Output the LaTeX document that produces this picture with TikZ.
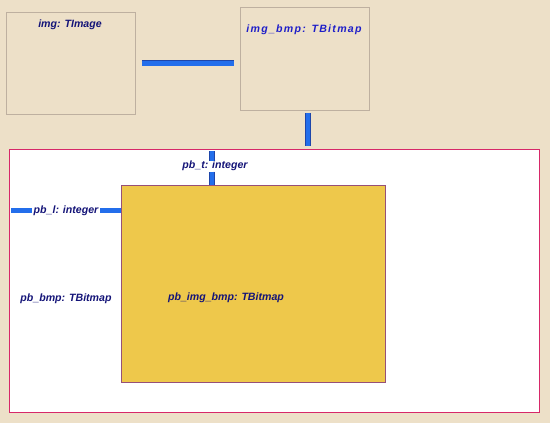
\documentclass[tikz,border=0pt]{standalone}
\usepackage{fontspec}
\setmainfont{Liberation Sans}
\newfontfamily\spacedfont[LetterSpace=12]{Liberation Sans}
\definecolor{bg}{RGB}{237,224,200}
\definecolor{boxline}{RGB}{190,176,160}
\definecolor{navy}{RGB}{20,20,120}
\definecolor{bluetxt}{RGB}{30,30,200}
\definecolor{barfill}{RGB}{35,110,235}
\definecolor{baredge}{RGB}{30,70,170}
\definecolor{crimson}{RGB}{215,40,105}
\definecolor{gold}{RGB}{238,200,75}
\definecolor{goldline}{RGB}{150,80,120}
\begin{document}
\begin{tikzpicture}[x=1pt,y=-1pt,
  lbl/.style={font=\fontsize{10.6}{12}\selectfont\bfseries\itshape, text=navy, inner sep=0pt},
  bar/.style={draw=baredge, line width=0.7pt, double=barfill, double distance=4.5pt, line cap=butt},
  plainbox/.style={draw=boxline, line width=0.8pt, fill=bg, inner sep=0pt, anchor=north west}]
\fill[bg] (0,0) rectangle (550,423);
\useasboundingbox (0,0) rectangle (550,423);
% top boxes
\node[plainbox, minimum width=129pt, minimum height=102pt] (img) at (6,12) {};
\node[plainbox, minimum width=129pt, minimum height=103pt] (bmp) at (240,7) {};
\node[lbl] (imglbl) at (70,25) {img: TImage};
\node[lbl, text=bluetxt, font=\fontsize{10.6}{12}\spacedfont\bfseries\itshape] (bmplbl) at (304,30) {img\_bmp: TBitmap};
% outer box
\node[draw=crimson, line width=1.3pt, fill=white, anchor=north west, minimum width=530pt, minimum height=263pt, inner sep=0pt] (pb) at (9,149) {};
% inner box
\node[draw=goldline, line width=0.8pt, fill=gold, anchor=north west, minimum width=264pt, minimum height=197pt, inner sep=0pt] (inner) at (121,185) {};
% labels
\node[lbl] (pbt) at (215,166) {pb\_t: integer};
\node[lbl] (pbl) at (66,210.5) {pb\_l: integer};
\node[lbl] (pbbmp) at (66,298.5) {pb\_bmp: TBitmap};
\node[lbl] (pbimg) at (226,297.5) {pb\_img\_bmp: TBitmap};
% connectors
\draw[bar] ([xshift=6pt]img.east) -- ([xshift=-6pt]img.east -| bmp.west);
\draw[bar] ([xshift=3pt,yshift=-2pt]bmp.south) -- ([xshift=3pt,yshift=3pt]bmp.south |- pb.north);
\coordinate (tx) at (212,0);
\draw[bar] ([yshift=-2pt]tx |- pb.north) -- ([yshift=5.5pt]tx |- pbt.center);
\draw[bar] ([yshift=-5.5pt]tx |- pbt.center) -- (tx |- inner.north);
\draw[bar] ([xshift=2pt]pb.west |- pbl.center) -- ([xshift=-2pt]pbl.west);
\draw[bar] ([xshift=2pt]pbl.east) -- (inner.west |- pbl.center);
\end{tikzpicture}
\end{document}
